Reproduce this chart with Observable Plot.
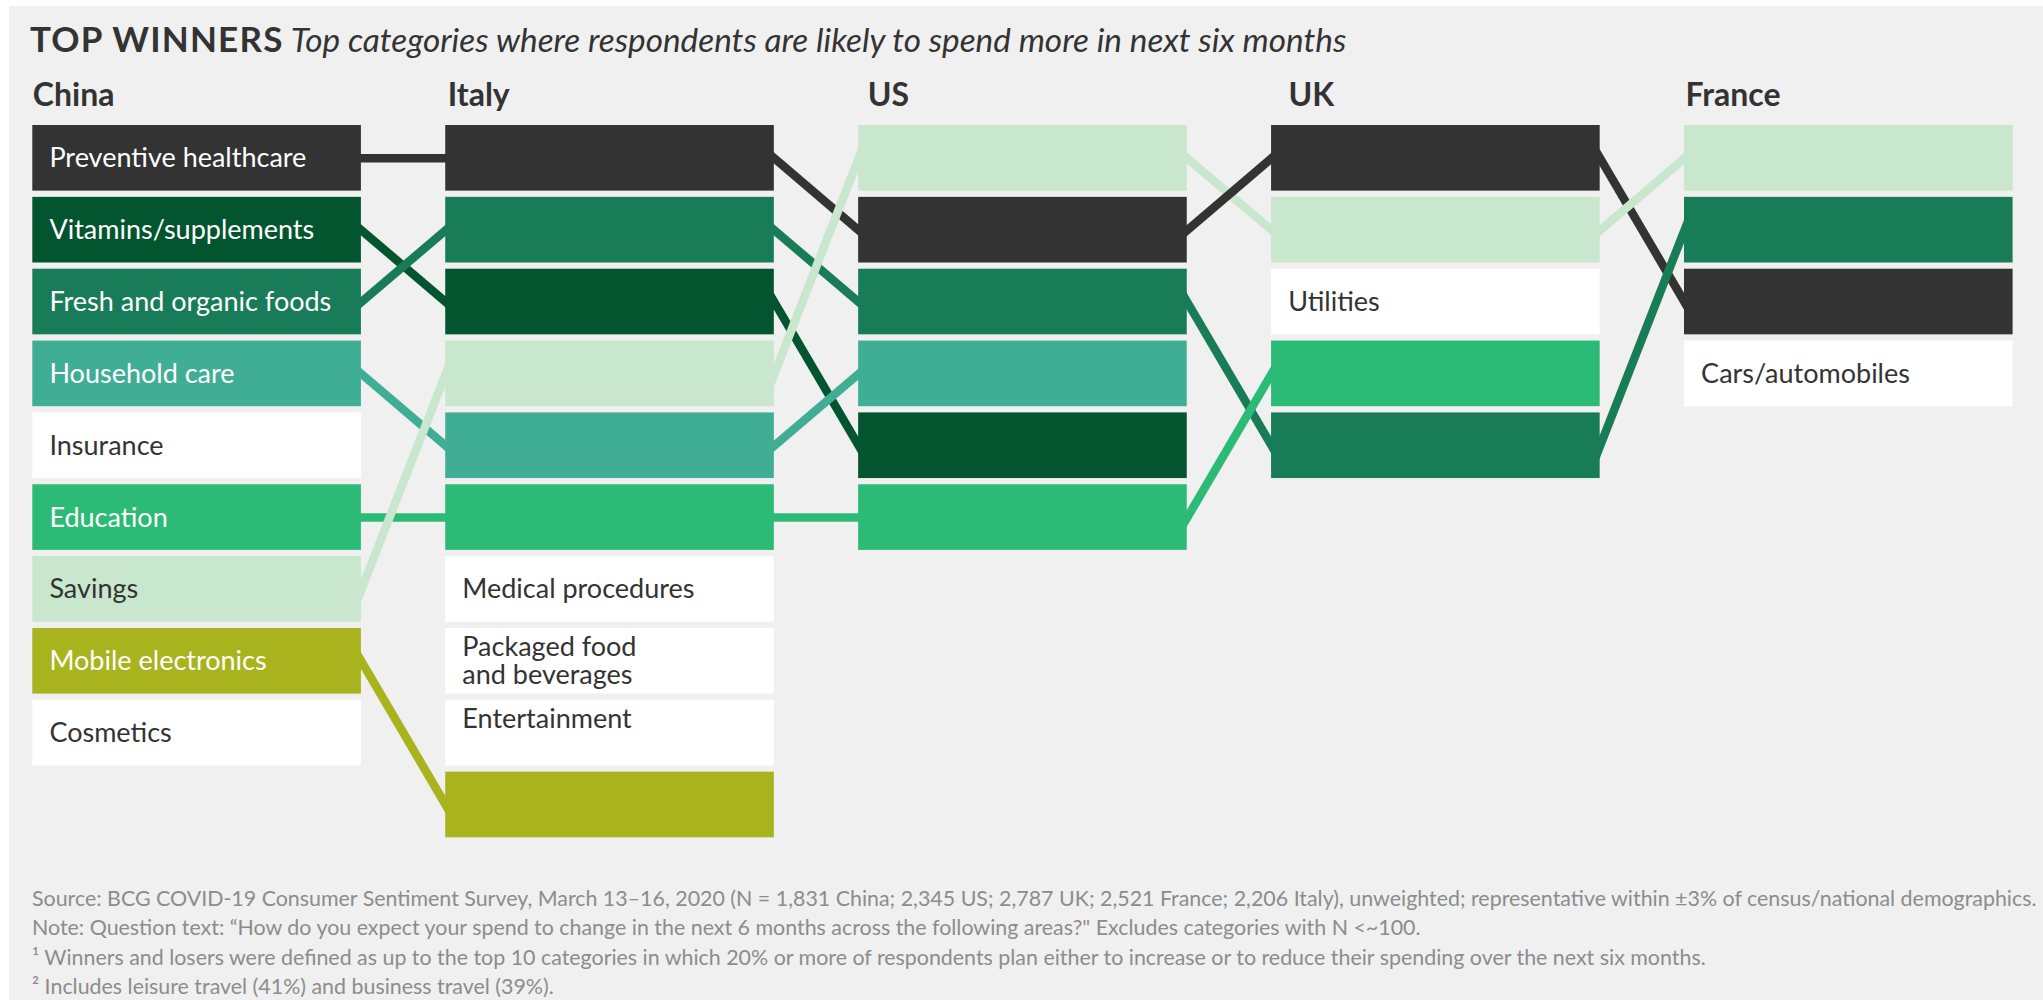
<!DOCTYPE html>
<html>
<head>
<meta charset="utf-8">
<script src="https://cdn.jsdelivr.net/npm/d3@7"></script>
<script src="https://cdn.jsdelivr.net/npm/@observablehq/plot@0.6"></script>
<style>
  html, body { margin: 0; padding: 0; background: #ffffff; }
  #page { position: relative; width: 2043px; height: 1000px; overflow: hidden; background: #ffffff; }
  #bg { position: absolute; left: 9px; top: 6px; right: 0; bottom: 0; background: #f0f0f0; }
  #title { position: absolute; left: 30px; top: 21px; font-family: Lato, sans-serif; color: #333333; white-space: nowrap; line-height: 34px; }
  #title b { font-size: 35px; font-weight: 700; letter-spacing: 1.2px; }
  #title i { font-size: 33.3px; font-weight: 400; margin-left: 3px; }
  #chart { position: absolute; left: 0; top: 0; }
  #notes { position: absolute; left: 32px; top: 884px; font-family: Lato, sans-serif; font-size: 21.4px; line-height: 29.3px; color: #8c8c8c; white-space: nowrap; }
</style>
</head>
<body>
<div id="page">
  <div id="bg"></div>
  <div id="title"><b>TOP WINNERS</b> <i>Top categories where respondents are likely to spend more in next six months</i></div>
  <div id="chart"></div>
  <div id="notes"></div>
</div>
<script>
// ---- Data ----
const countries = ["China", "Italy", "US", "UK", "France"];

const chinaRanking = ["Preventive healthcare", "Vitamins/supplements", "Fresh and organic foods", "Household care", "Insurance", "Education", "Savings", "Mobile electronics", "Cosmetics"];
const italyRanking = ["Preventive healthcare", "Fresh and organic foods", "Vitamins/supplements", "Savings", "Household care", "Education", "Medical procedures", "Packaged food and beverages", "Entertainment", "Mobile electronics"];
const usRanking = ["Savings", "Preventive healthcare", "Fresh and organic foods", "Household care", "Vitamins/supplements", "Education"];
const ukRanking = ["Preventive healthcare", "Savings", "Utilities", "Education", "Fresh and organic foods"];
const franceRanking = ["Savings", "Fresh and organic foods", "Preventive healthcare", "Cars/automobiles"];

const categories = ["Preventive healthcare", "Vitamins/supplements", "Fresh and organic foods", "Household care", "Insurance", "Education", "Savings", "Mobile electronics", "Cosmetics", "Medical procedures", "Packaged food and beverages", "Entertainment", "Utilities", "Cars/automobiles"];
const categoryColors = ["#333333", "#03552f", "#187c59", "#40ae95", "#ffffff", "#2bbb76", "#c9e7cd", "#a8b31e", "#ffffff", "#ffffff", "#ffffff", "#ffffff", "#ffffff", "#ffffff"];
const darkTextCategories = ["Savings", "Insurance", "Cosmetics", "Medical procedures", "Packaged food and beverages", "Entertainment", "Utilities", "Cars/automobiles"];
const labelLines = {"Packaged food and beverages": "Packaged food\nand beverages", "Entertainment": "Entertainment\n"};

const notes = [
  "Source: BCG COVID-19 Consumer Sentiment Survey, March 13–16, 2020 (N = 1,831 China; 2,345 US; 2,787 UK; 2,521 France; 2,206 Italy), unweighted; representative within ±3% of census/national demographics.",
  "Note: Question text: “How do you expect your spend to change in the next 6 months across the following areas?\" Excludes categories with N <~100.",
  "¹ Winners and losers were defined as up to the top 10 categories in which 20% or more of respondents plan either to increase or to reduce their spending over the next six months.",
  "² Includes leisure travel (41%) and business travel (39%)."
];

// ---- Layout constants ----
const W = 0.7958;     // box width as a fraction of column step
const H = 0.9136;     // box height as a fraction of row step
const STEP_PX = 412.9;
const headerNudgePx = [0, 2, 9, 17, 1];
const EXT = 0.08;     // extend links slightly under boxes so their ends are flush

const rankings = [chinaRanking, italyRanking, usRanking, ukRanking, franceRanking];
const colorOf = new Map(categories.map((c, i) => [c, categoryColors[i]]));

const boxes = rankings.flatMap((list, col) =>
  list.map((category, rank) => ({country: countries[col], col, rank, category})));

const labels = boxes
  .filter(d => d.col === 0 || colorOf.get(d.category) === "#ffffff")
  .map(d => ({...d, label: labelLines[d.category] ?? d.category}));

const links = [];
for (let c = 0; c < rankings.length - 1; c++) {
  rankings[c].forEach((cat, i) => {
    const j = rankings[c + 1].indexOf(cat);
    if (j >= 0) {
      const x1 = c + W, x2 = c + 1, y1 = i + H / 2, y2 = j + H / 2;
      links.push({
        category: cat,
        x1: x1 - EXT * (x2 - x1), y1: y1 - EXT * (y2 - y1),
        x2: x2 + EXT * (x2 - x1), y2: y2 + EXT * (y2 - y1)
      });
    }
  });
}

const chart = Plot.plot({
  width: 2043,
  height: 860,
  marginLeft: 32.3,
  marginRight: 30.4,
  marginTop: 125,
  marginBottom: 22.7,
  x: {domain: [0, 4 + W], axis: null},
  y: {domain: [0, 9 + H], reverse: true, axis: null},
  color: {domain: categories, range: categoryColors},
  style: {background: "transparent", overflow: "visible", fontFamily: "Lato, sans-serif"},
  marks: [
    Plot.link(links, {x1: "x1", y1: "y1", x2: "x2", y2: "y2", stroke: "category", strokeWidth: 8.5}),
    Plot.rect(boxes, {x1: "col", x2: d => d.col + W, y1: "rank", y2: d => d.rank + H, fill: "category"}),
    Plot.text(labels.filter(d => !darkTextCategories.includes(d.category)), {
      x: "col", y: d => d.rank + H / 2, text: "label", textAnchor: "start", lineAnchor: "middle",
      dx: 16.6, fontSize: 27, lineHeight: 1.04, fill: "#ffffff", fontFamily: "Lato, sans-serif"
    }),
    Plot.text(labels.filter(d => darkTextCategories.includes(d.category)), {
      x: "col", y: d => d.rank + H / 2, text: "label", textAnchor: "start", lineAnchor: "middle",
      dx: 16.6, fontSize: 27, lineHeight: 1.04, fill: "#333333", fontFamily: "Lato, sans-serif"
    }),
    Plot.text(countries, {
      x: (d, i) => i + headerNudgePx[i] / STEP_PX, y: () => 0, text: d => d,
      textAnchor: "start", lineAnchor: "bottom", dy: -19.3,
      fontSize: 32, fontWeight: 700, fill: "#333333", fontFamily: "Lato, sans-serif"
    })
  ]
});
document.getElementById("chart").appendChild(chart);

const notesDiv = document.getElementById("notes");
notes.forEach(t => { const d = document.createElement("div"); d.textContent = t; notesDiv.appendChild(d); });
</script>
</body>
</html>
